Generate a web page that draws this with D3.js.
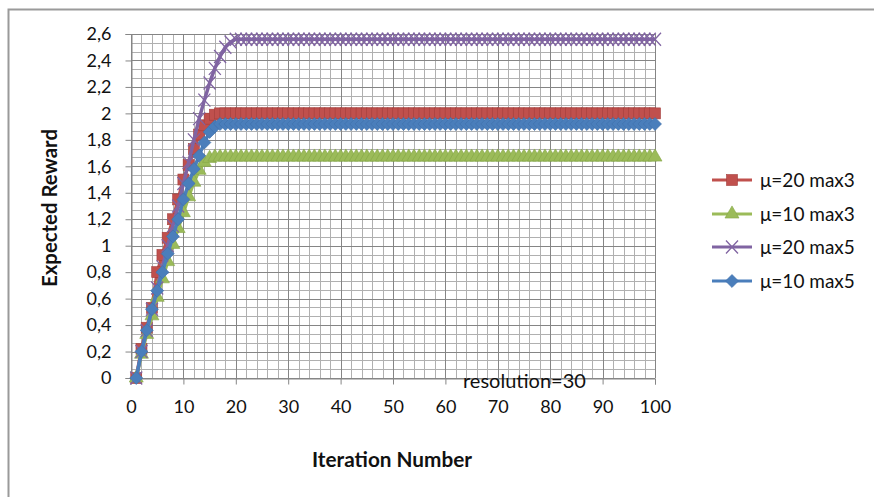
<!DOCTYPE html>
<html>
<head>
<meta charset="utf-8">
<script src="https://cdn.jsdelivr.net/npm/d3@7"></script>
<style>
  html, body { margin: 0; padding: 0; background: #fff; }
  svg { display: block; font-family: Lato, "Open Sans", sans-serif; }
</style>
</head>
<body>
<div id="chart"></div>
<script>
const iterations = d3.range(1, 101);
const xTicks = [0, 10, 20, 30, 40, 50, 60, 70, 80, 90, 100];
const yTicks = [0, 0.2, 0.4, 0.6, 0.8, 1, 1.2, 1.4, 1.6, 1.8, 2, 2.2, 2.4, 2.6];

const seriesNames = ['μ=20 max3', 'μ=10 max3', 'μ=20 max5', 'μ=10 max5'];

const mu20max3 = [
  0, 0.22, 0.38, 0.53, 0.8, 0.93, 1.06, 1.2, 1.35, 1.5,
  1.61, 1.73, 1.84, 1.91, 1.96, 1.99, 2, 2, 2, 2,
  2, 2, 2, 2, 2, 2, 2, 2, 2, 2,
  2, 2, 2, 2, 2, 2, 2, 2, 2, 2,
  2, 2, 2, 2, 2, 2, 2, 2, 2, 2,
  2, 2, 2, 2, 2, 2, 2, 2, 2, 2,
  2, 2, 2, 2, 2, 2, 2, 2, 2, 2,
  2, 2, 2, 2, 2, 2, 2, 2, 2, 2,
  2, 2, 2, 2, 2, 2, 2, 2, 2, 2,
  2, 2, 2, 2, 2, 2, 2, 2, 2, 2
];
const mu10max3 = [
  0, 0.18, 0.33, 0.47, 0.61, 0.75, 0.88, 1.01, 1.13, 1.25,
  1.37, 1.48, 1.57, 1.63, 1.66, 1.67, 1.67, 1.67, 1.67, 1.67,
  1.67, 1.67, 1.67, 1.67, 1.67, 1.67, 1.67, 1.67, 1.67, 1.67,
  1.67, 1.67, 1.67, 1.67, 1.67, 1.67, 1.67, 1.67, 1.67, 1.67,
  1.67, 1.67, 1.67, 1.67, 1.67, 1.67, 1.67, 1.67, 1.67, 1.67,
  1.67, 1.67, 1.67, 1.67, 1.67, 1.67, 1.67, 1.67, 1.67, 1.67,
  1.67, 1.67, 1.67, 1.67, 1.67, 1.67, 1.67, 1.67, 1.67, 1.67,
  1.67, 1.67, 1.67, 1.67, 1.67, 1.67, 1.67, 1.67, 1.67, 1.67,
  1.67, 1.67, 1.67, 1.67, 1.67, 1.67, 1.67, 1.67, 1.67, 1.67,
  1.67, 1.67, 1.67, 1.67, 1.67, 1.67, 1.67, 1.67, 1.67, 1.67
];
const mu20max5 = [
  0, 0.2, 0.36, 0.52, 0.68, 0.84, 1, 1.15, 1.3, 1.47,
  1.63, 1.8, 1.96, 2.1, 2.23, 2.34, 2.43, 2.5, 2.54, 2.56,
  2.56, 2.56, 2.56, 2.56, 2.56, 2.56, 2.56, 2.56, 2.56, 2.56,
  2.56, 2.56, 2.56, 2.56, 2.56, 2.56, 2.56, 2.56, 2.56, 2.56,
  2.56, 2.56, 2.56, 2.56, 2.56, 2.56, 2.56, 2.56, 2.56, 2.56,
  2.56, 2.56, 2.56, 2.56, 2.56, 2.56, 2.56, 2.56, 2.56, 2.56,
  2.56, 2.56, 2.56, 2.56, 2.56, 2.56, 2.56, 2.56, 2.56, 2.56,
  2.56, 2.56, 2.56, 2.56, 2.56, 2.56, 2.56, 2.56, 2.56, 2.56,
  2.56, 2.56, 2.56, 2.56, 2.56, 2.56, 2.56, 2.56, 2.56, 2.56,
  2.56, 2.56, 2.56, 2.56, 2.56, 2.56, 2.56, 2.56, 2.56, 2.56
];
const mu10max5 = [
  0, 0.2, 0.36, 0.52, 0.66, 0.8, 0.94, 1.07, 1.2, 1.35,
  1.47, 1.58, 1.68, 1.78, 1.86, 1.9, 1.92, 1.92, 1.92, 1.92,
  1.92, 1.92, 1.92, 1.92, 1.92, 1.92, 1.92, 1.92, 1.92, 1.92,
  1.92, 1.92, 1.92, 1.92, 1.92, 1.92, 1.92, 1.92, 1.92, 1.92,
  1.92, 1.92, 1.92, 1.92, 1.92, 1.92, 1.92, 1.92, 1.92, 1.92,
  1.92, 1.92, 1.92, 1.92, 1.92, 1.92, 1.92, 1.92, 1.92, 1.92,
  1.92, 1.92, 1.92, 1.92, 1.92, 1.92, 1.92, 1.92, 1.92, 1.92,
  1.92, 1.92, 1.92, 1.92, 1.92, 1.92, 1.92, 1.92, 1.92, 1.92,
  1.92, 1.92, 1.92, 1.92, 1.92, 1.92, 1.92, 1.92, 1.92, 1.92,
  1.92, 1.92, 1.92, 1.92, 1.92, 1.92, 1.92, 1.92, 1.92, 1.92
];

const series = [
  { name: seriesNames[0], values: mu20max3, color: '#C0504D', stroke: '#A33F3C', marker: 'square' },
  { name: seriesNames[1], values: mu10max3, color: '#9BBB59', stroke: '#84A646', marker: 'triangle' },
  { name: seriesNames[2], values: mu20max5, color: '#8064A2', stroke: '#8064A2', marker: 'x' },
  { name: seriesNames[3], values: mu10max5, color: '#4A7EBB', stroke: '#3F70AB', marker: 'diamond' }
];

const width = 874, height = 497;
const plot = { left: 131, right: 655, top: 34, bottom: 378 };

const svg = d3.select('#chart').append('svg')
  .attr('width', width)
  .attr('height', height);

// chart frame (runs off the right/bottom edge like the original)
svg.append('path')
  .attr('d', `M8.5,${height} V9.5 H${width}`)
  .attr('fill', 'none')
  .attr('stroke', '#9a9a9a')
  .attr('stroke-width', 2);

const x = d3.scaleLinear().domain([0, 100]).range([plot.left, plot.right]);
const y = d3.scaleLinear().domain([0, 2.6]).range([plot.bottom, plot.top]);

// gridlines: minor then major
const grid = svg.append('g');
grid.selectAll('.vminor')
  .data(d3.range(0, 101, 2))
  .enter().append('line')
  .attr('x1', d => Math.round(x(d)) + 0.5).attr('x2', d => Math.round(x(d)) + 0.5)
  .attr('y1', plot.top).attr('y2', plot.bottom)
  .attr('stroke', '#b0b0b0');
grid.selectAll('.hminor')
  .data(d3.range(0, 40).map(i => i * 0.2 / 3))
  .enter().append('line')
  .attr('x1', plot.left).attr('x2', plot.right)
  .attr('y1', d => Math.round(y(d)) + 0.5).attr('y2', d => Math.round(y(d)) + 0.5)
  .attr('stroke', '#b0b0b0');
grid.selectAll('.vmajor')
  .data(xTicks)
  .enter().append('line')
  .attr('x1', d => Math.round(x(d)) + 0.5).attr('x2', d => Math.round(x(d)) + 0.5)
  .attr('y1', plot.top).attr('y2', plot.bottom)
  .attr('stroke', '#858585');
grid.selectAll('.hmajor')
  .data(yTicks)
  .enter().append('line')
  .attr('x1', plot.left).attr('x2', plot.right)
  .attr('y1', d => Math.round(y(d)) + 0.5).attr('y2', d => Math.round(y(d)) + 0.5)
  .attr('stroke', '#858585');

const fmt = d => String(+d.toFixed(1)).replace('.', ',');

// axes
const yAxis = svg.append('g')
  .attr('transform', `translate(${plot.left + 0.5},0)`)
  .call(d3.axisLeft(y).tickValues(yTicks).tickFormat(fmt).tickSize(6).tickPadding(14));
const xAxis = svg.append('g')
  .attr('transform', `translate(0,${plot.bottom + 0.5})`)
  .call(d3.axisBottom(x).tickValues(xTicks).tickSize(6).tickPadding(16));

[yAxis, xAxis].forEach(a => {
  a.select('.domain').attr('stroke', '#868686');
  a.selectAll('.tick line').attr('stroke', '#868686');
  a.selectAll('.tick text')
    .attr('fill', '#111')
    .style('font-size', '18px')
    .style('font-family', 'Lato, sans-serif');
});
xAxis.selectAll('.tick').filter(d => d === 0).select('line').remove();

// series lines + markers
const line = d3.line()
  .x((d, i) => x(iterations[i]))
  .y(d => y(d));

const drawMarker = (g, type, color, stroke) => {
  if (type === 'square') {
    g.append('rect').attr('x', -5.5).attr('y', -5.5).attr('width', 11).attr('height', 11)
      .attr('fill', color).attr('stroke', stroke).attr('stroke-width', 0.6);
  } else if (type === 'triangle') {
    g.append('path').attr('d', d3.symbol(d3.symbolTriangle, 85)())
      .attr('fill', color).attr('stroke', stroke).attr('stroke-width', 0.6);
  } else if (type === 'diamond') {
    g.append('rect').attr('x', -4.6).attr('y', -4.6).attr('width', 9.2).attr('height', 9.2)
      .attr('transform', 'rotate(45)')
      .attr('fill', color).attr('stroke', stroke).attr('stroke-width', 0.6);
  } else {
    g.append('path').attr('d', 'M-6,-6.5L6,6.5M-6,6.5L6,-6.5')
      .attr('fill', 'none').attr('stroke', color).attr('stroke-width', 1.3);
  }
};

series.forEach(s => {
  const g = svg.append('g');
  g.append('path')
    .datum(s.values)
    .attr('d', line)
    .attr('fill', 'none')
    .attr('stroke', s.color)
    .attr('stroke-width', 3.5)
    .attr('stroke-linejoin', 'round');
  g.selectAll('.m')
    .data(s.values)
    .enter().append('g')
    .attr('transform', (d, i) => `translate(${x(iterations[i])},${y(d)})`)
    .each(function () { drawMarker(d3.select(this), s.marker, s.color, s.stroke); });
});

// annotation
svg.append('text')
  .attr('x', 463).attr('y', 388)
  .attr('fill', '#111')
  .style('font-size', '20px')
  .text('resolution=30');

// axis titles
svg.append('text')
  .attr('x', 392).attr('y', 467)
  .attr('text-anchor', 'middle')
  .attr('fill', '#111')
  .style('font-size', '20px').style('font-weight', 'bold')
  .attr('textLength', 160).attr('lengthAdjust', 'spacingAndGlyphs')
  .text('Iteration Number');
svg.append('text')
  .attr('transform', 'translate(57,208) rotate(-90)')
  .attr('text-anchor', 'middle')
  .attr('fill', '#111')
  .style('font-size', '20px').style('font-weight', 'bold')
  .attr('textLength', 158).attr('lengthAdjust', 'spacingAndGlyphs')
  .text('Expected Reward');

// legend
const legend = svg.append('g');
const legendRows = [180, 214, 247, 281];
series.forEach((s, i) => {
  const row = legend.append('g').attr('transform', `translate(712,${legendRows[i]})`);
  row.append('line').attr('x1', 0).attr('x2', 40)
    .attr('stroke', s.color).attr('stroke-width', 3);
  drawMarker(row.append('g').attr('transform', 'translate(20,0)'), s.marker, s.color, s.stroke);
  row.append('text')
    .attr('x', 48).attr('dy', '0.35em')
    .attr('fill', '#111')
    .style('font-size', '19px')
    .text(s.name);
});
</script>
</body>
</html>
